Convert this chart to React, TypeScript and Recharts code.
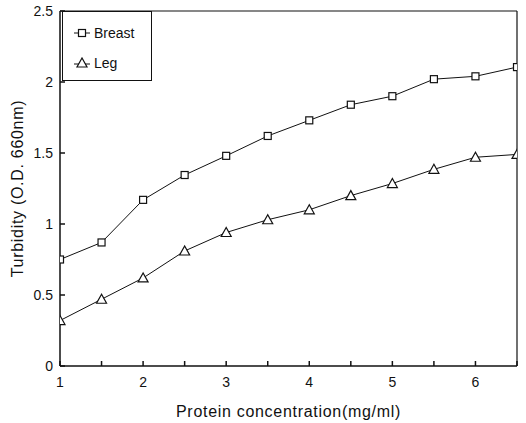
import React from 'react'
import { LineChart, Line, XAxis, YAxis, ReferenceLine, Label } from 'recharts'

const concentration = [1, 1.5, 2, 2.5, 3, 3.5, 4, 4.5, 5, 5.5, 6, 6.5]
const breast = [0.75, 0.87, 1.17, 1.345, 1.48, 1.62, 1.73, 1.84, 1.9, 2.02, 2.04, 2.105]
const leg = [0.32, 0.47, 0.62, 0.81, 0.94, 1.03, 1.1, 1.2, 1.285, 1.385, 1.47, 1.49]
const xTicks = [1, 1.5, 2, 2.5, 3, 3.5, 4, 4.5, 5, 5.5, 6, 6.5]
const yTicks = [0, 0.5, 1, 1.5, 2, 2.5]

const data = concentration.map((c, i) => ({ c, breast: breast[i], leg: leg[i] }))

const FONT = '"Liberation Sans", Arial, Helvetica, sans-serif'
const tickStyle = { fontSize: 14, fill: '#111', fontFamily: FONT }
const titleStyle = { fontSize: 16, fill: '#111', fontFamily: FONT, letterSpacing: 0.7 }

function SquareDot(props: any) {
  const { cx, cy } = props
  if (cx == null || cy == null) return null
  return <rect x={cx - 3.5} y={cy - 3.5} width={7} height={7} fill="#fff" stroke="#111" strokeWidth={1.2} />
}

function TriangleDot(props: any) {
  const { cx, cy } = props
  if (cx == null || cy == null) return null
  return (
    <polygon
      points={`${cx},${cy - 5} ${cx - 5},${cy + 4} ${cx + 5},${cy + 4}`}
      fill="#fff"
      stroke="#111"
      strokeWidth={1.2}
    />
  )
}

// legend box sits over the top-left corner of the plot, like the original figure
function LegendBox() {
  return (
    <div
      style={{
        position: 'absolute',
        left: 62,
        top: 11,
        width: 90,
        height: 70,
        border: '1px solid #111',
        background: '#fff',
        fontFamily: FONT,
        fontSize: 14,
        color: '#111',
        boxSizing: 'border-box',
      }}
    >
      <div style={{ display: 'flex', alignItems: 'center', height: 20, marginTop: 11, paddingLeft: 9 }}>
        <svg width={20} height={12}>
          <line x1={2} y1={6} x2={18} y2={6} stroke="#111" />
          <rect x={6.5} y={2.5} width={7} height={7} fill="#fff" stroke="#111" strokeWidth={1.2} />
        </svg>
        <span style={{ marginLeft: 2 }}>Breast</span>
      </div>
      <div style={{ display: 'flex', alignItems: 'center', height: 20, marginTop: 10, paddingLeft: 9 }}>
        <svg width={20} height={12}>
          <line x1={2} y1={7} x2={18} y2={7} stroke="#111" />
          <polygon points="10,1 5,10 15,10" fill="#fff" stroke="#111" strokeWidth={1.2} />
        </svg>
        <span style={{ marginLeft: 2 }}>Leg</span>
      </div>
    </div>
  )
}

export default function App() {
  return (
    <div style={{ position: 'absolute', left: 0, top: 0, width: 526, height: 423, background: '#fff' }}>
      <LineChart width={526} height={423} data={data} margin={{ top: 11, right: 9, left: 0, bottom: 0 }}>
        <XAxis
          dataKey="c"
          type="number"
          domain={[1, 6.5]}
          ticks={xTicks}
          tickFormatter={(v: number) => (Number.isInteger(v) ? String(v) : '')}
          tickSize={-5}
          tickMargin={16}
          height={57}
          stroke="#111"
          strokeWidth={1.5}
          tick={tickStyle}
          allowDataOverflow
        >
          <Label value="Protein concentration(mg/ml)" position="insideBottom" offset={6} style={titleStyle} />
        </XAxis>
        <YAxis
          type="number"
          domain={[0, 2.5]}
          ticks={yTicks}
          width={60}
          tickSize={-5}
          tickMargin={12}
          stroke="#111"
          strokeWidth={1.5}
          tick={tickStyle}
          allowDataOverflow
        >
          <Label
            value="Turbidity (O.D. 660nm)"
            angle={-90}
            position="insideLeft"
            offset={17}
            style={{ ...titleStyle, textAnchor: 'middle' }}
          />
        </YAxis>
        <ReferenceLine y={2.5} stroke="#111" strokeWidth={1.2} />
        <ReferenceLine x={6.5} stroke="#111" strokeWidth={1.2} />
        <Line dataKey="breast" stroke="#111" strokeWidth={1} dot={<SquareDot />} isAnimationActive={false} />
        <Line dataKey="leg" stroke="#111" strokeWidth={1} dot={<TriangleDot />} isAnimationActive={false} />
      </LineChart>
      <LegendBox />
    </div>
  )
}
